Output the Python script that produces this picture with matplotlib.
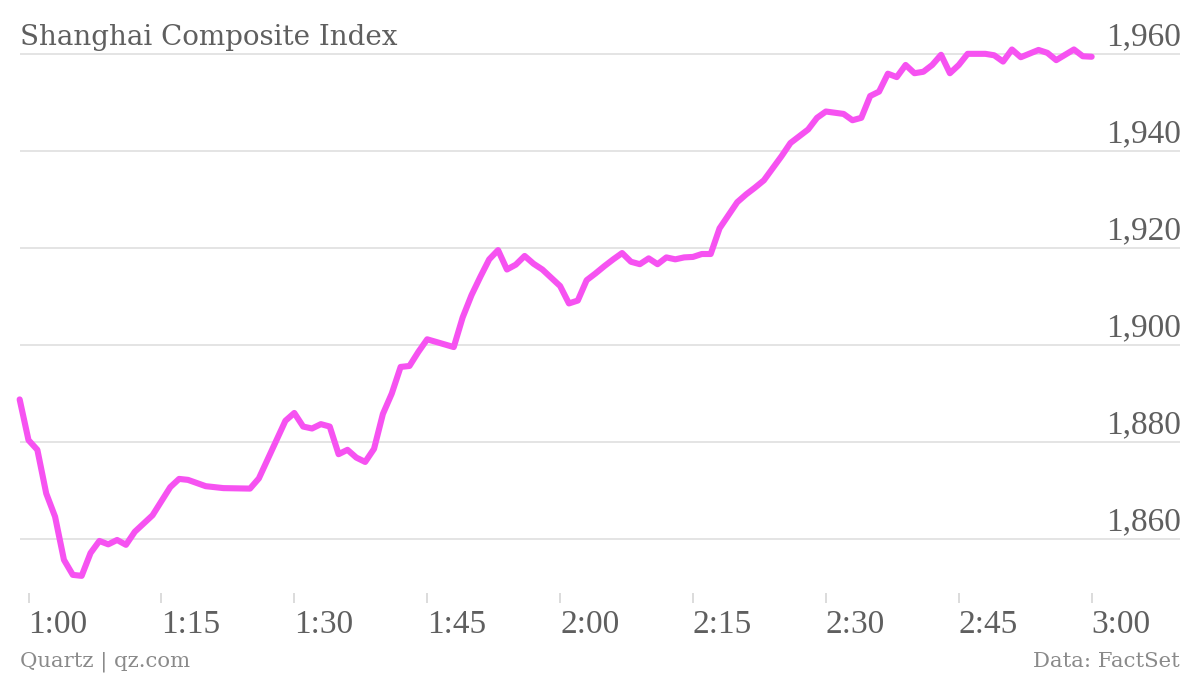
import matplotlib
matplotlib.use("Agg")
import matplotlib.pyplot as plt

# minutes after 1:00 and index level
minutes = [-1, 0, 1, 2, 3, 4, 5, 6, 7, 8, 9, 10, 11, 12, 14, 16, 17, 18, 20, 22,
           25, 26, 29, 30, 31, 32, 33, 34, 35, 36, 37, 38, 39, 40, 41, 42, 43, 44,
           45, 48, 49, 50, 51, 52, 53, 54, 55, 56, 57, 58, 60, 61, 62, 63, 64, 65,
           66, 67, 68, 69, 70, 71, 72, 73, 74, 75, 76, 77, 78, 80, 81, 82, 83, 85,
           86, 88, 89, 90, 92, 93, 94, 95, 96, 97, 98, 99, 100, 101, 102, 103, 104,
           105, 106, 108, 109, 110, 111, 112, 114, 115, 116, 117, 118, 119, 120]
index = [1888.8, 1880.4, 1878.4, 1869.4, 1864.6, 1855.7, 1852.6, 1852.4, 1857.1,
         1859.6, 1858.9, 1859.8, 1858.8, 1861.5, 1864.9, 1870.7, 1872.4, 1872.2,
         1870.9, 1870.5, 1870.4, 1872.5, 1884.4, 1886.0, 1883.2, 1882.8, 1883.7,
         1883.2, 1877.5, 1878.4, 1876.8, 1875.9, 1878.6, 1885.8, 1890.0, 1895.5,
         1895.7, 1898.6, 1901.2, 1899.6, 1905.7, 1910.3, 1914.1, 1917.7, 1919.6,
         1915.6, 1916.6, 1918.4, 1916.8, 1915.6, 1912.2, 1908.6, 1909.2, 1913.4,
         1914.8, 1916.3, 1917.7, 1919.0, 1917.2, 1916.7, 1917.9, 1916.7, 1918.1,
         1917.7, 1918.1, 1918.2, 1918.8, 1918.8, 1924.1, 1929.5, 1931.1, 1932.5,
         1934.0, 1939.0, 1941.7, 1944.5, 1946.9, 1948.2, 1947.7, 1946.4, 1946.9,
         1951.4, 1952.3, 1956.0, 1955.3, 1957.8, 1956.1, 1956.4, 1957.8, 1959.9,
         1956.1, 1957.8, 1960.1, 1960.1, 1959.8, 1958.5, 1961.0, 1959.4, 1960.9,
         1960.3, 1958.8, 1959.9, 1961.0, 1959.6, 1959.5]

x_ticks = [0, 15, 30, 45, 60, 75, 90, 105, 120]
x_labels = ["1:00", "1:15", "1:30", "1:45", "2:00", "2:15", "2:30", "2:45", "3:00"]
y_ticks = [1860, 1880, 1900, 1920, 1940, 1960]

line_color = '#f652f1'
grid_color = '#e2e2e2'
label_color = '#5f5f5f'
foot_color = '#8a8a8a'
tick_font = 'Liberation Serif'
head_font = 'DejaVu Serif'

W, H = 1200, 676
fig = plt.figure(figsize=(12, 6.76), dpi=100)
ax = fig.add_axes([20 / W, 1 - 593 / H, 1160 / W, 573 / H])

ax.plot(minutes, index, color=line_color, linewidth=4.4,
        solid_joinstyle='round', solid_capstyle='round', clip_on=False, zorder=3)

ax.set_xlim(-0.96, 129.97)
ax.set_ylim(1848.86, 1967.08)

for s in ax.spines.values():
    s.set_visible(False)

# horizontal grid with labels sitting on top of each line
for v in y_ticks:
    ax.axhline(v, color=grid_color, linewidth=1.3, zorder=1)
    ax.annotate("{:,}".format(v), xy=(1.0, v), xycoords=('axes fraction', 'data'),
                xytext=(0.5, 6.6), textcoords='offset points', ha='right',
                va='baseline', fontsize=24, family=tick_font, color=label_color)

ax.set_yticks([])
ax.set_xticks(x_ticks)
ax.set_xticklabels([])
ax.tick_params(axis='x', direction='out', length=7.5, width=1.2, colors='#d5d5d5')

for t, lab in zip(x_ticks, x_labels):
    ax.annotate(lab, xy=(t, 0), xycoords=('data', 'axes fraction'),
                xytext=(0, -29), textcoords='offset points', ha='left',
                va='baseline', fontsize=24, family=tick_font, color=label_color)

fig.text(20 / W, 1 - 45 / H, "Shanghai Composite Index", fontsize=20,
         family=head_font, color=label_color, ha='left', va='baseline')
fig.text(20 / W, 1 - 667 / H, "Quartz | qz.com", fontsize=15.3,
         family=head_font, color=foot_color, ha='left', va='baseline')
fig.text(1180 / W, 1 - 667 / H, "Data: FactSet", fontsize=15.3,
         family=head_font, color=foot_color, ha='right', va='baseline')

fig.savefig("out.png", dpi=100)
